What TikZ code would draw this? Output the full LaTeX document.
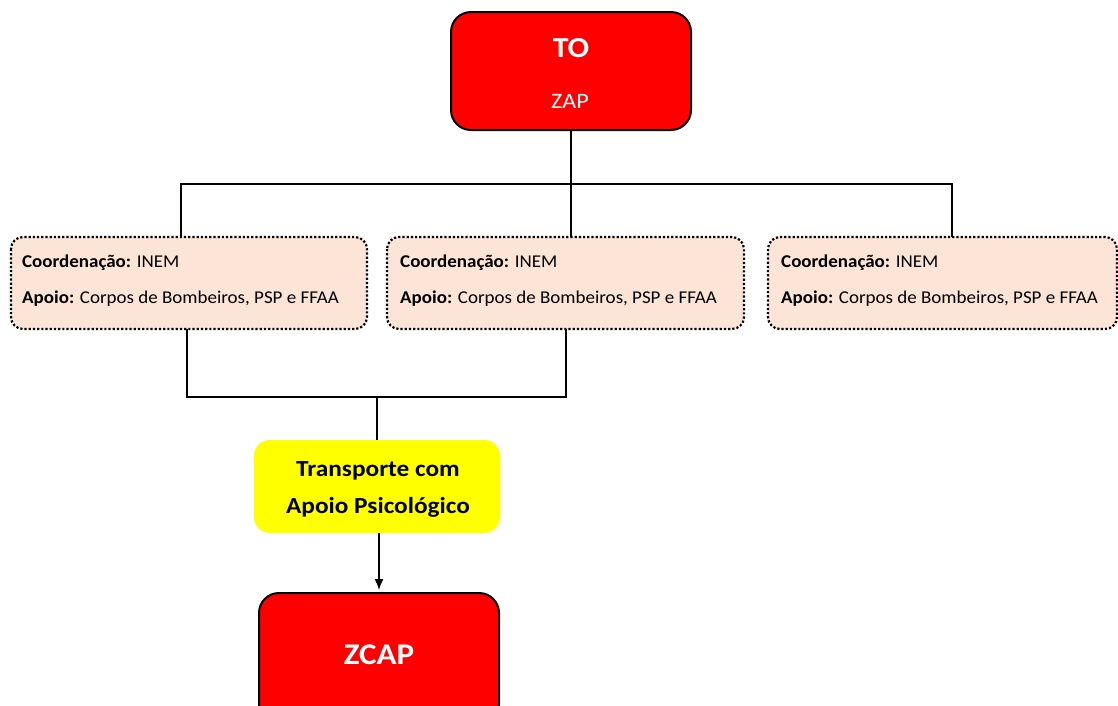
\documentclass[tikz,border=0pt]{standalone}
\usepackage{fontspec}
\setmainfont{Carlito}
\newfontfamily\wideface[FakeStretch=1.055]{Carlito}
\newfontfamily\wideheads[FakeStretch=1.1]{Carlito}
\usetikzlibrary{arrows.meta}
\definecolor{peach}{HTML}{FCE4D6}
\definecolor{redbox}{HTML}{FF0000}
\definecolor{yelbox}{HTML}{FFFF00}
\begin{document}
\begin{tikzpicture}[x=1pt,y=-1pt,
  redstyle/.style={draw=black,line width=2pt,fill=redbox,rounded corners=20pt,text=white},
  peachstyle/.style={draw=black,line width=2.2pt,dotted,fill=peach,rounded corners=12pt},
  yelstyle/.style={fill=yelbox,rounded corners=16pt},
  conn/.style={draw=black,line width=1.5pt},
  txt/.style={inner sep=0pt,anchor=west,font=\wideface\fontsize{18}{21}\selectfont}]
\useasboundingbox (0,0) rectangle (1118,705);
\clip (0,0) rectangle (1118,705);
% TO box
\path[redstyle] (451,12) rectangle (691,130);
\node[text=white,font=\wideheads\fontsize{29}{32}\selectfont\bfseries] (to) at (571,48) {TO};
\node[text=white,font=\wideheads\fontsize{22}{24}\selectfont] (zap) at (570,101) {ZAP};
\coordinate (tobot) at (571,130);
% peach boxes
\path[peachstyle] (11,237) rectangle (367,329);
\path[peachstyle] (387,237) rectangle (744,329);
\path[peachstyle] (768,237) rectangle (1117,329);
\coordinate (b1top) at (181,237);
\coordinate (b2top) at (571,237);
\coordinate (b3top) at (952,237);
\coordinate (b1bot) at (187,329);
\coordinate (b2bot) at (566,329);
\foreach \x/\n in {22/a,400/b,781/c}{
  \node[txt] (coord\n) at (\x,263) {\textbf{Coordenação:} INEM};
  \node[txt] (apoio\n) at (\x,299) {\textbf{Apoio:} Corpos de Bombeiros, PSP e FFAA};
}
% yellow box
\path[yelstyle] (254,440) rectangle (500,533);
\node[align=center,font=\wideheads\fontsize{23}{37}\selectfont\bfseries] (transp) at (378,489) {Transporte com\\Apoio Psicológico};
\coordinate (ytop) at (377,440);
\coordinate (ybot) at (379,533);
% ZCAP box
\path[redstyle] (259,593) rectangle (499,725);
\node[text=white,font=\wideheads\fontsize{30}{32}\selectfont\bfseries] (zcap) at (379,655) {ZCAP};
\coordinate (zctop) at (379,590);
% connectors
\coordinate (hl) at (181,184);
\coordinate (hr) at (952,184);
\coordinate (hm) at (571,184);
\draw[conn] (tobot) -- (hm);
\draw[conn] (b1top) -- (hl) -- (hr) -- (b3top);
\draw[conn] (hm) -- (b2top);
\coordinate (jl) at (187,397);
\coordinate (jr) at (566,397);
\coordinate (jm) at (377,397);
\draw[conn] (b1bot) -- (jl) -- (jr) -- (b2bot);
\draw[conn] (jm) -- (ytop);
\draw[conn,-{Latex[length=11pt,width=9pt]}] (ybot) -- (zctop);
\end{tikzpicture}
\end{document}
